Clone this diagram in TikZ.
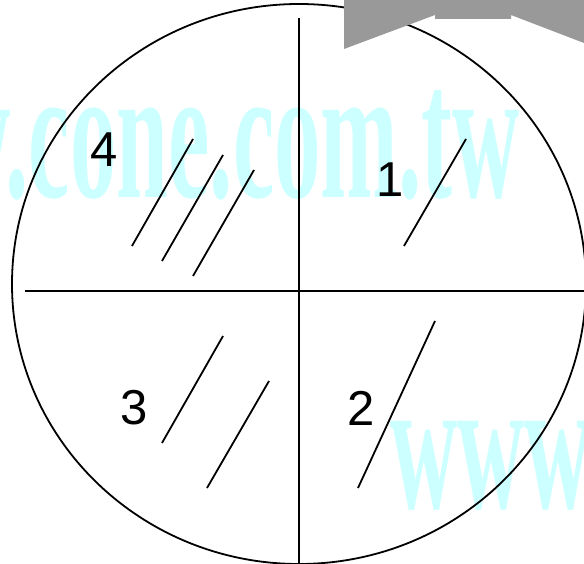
\documentclass[tikz,border=0pt]{standalone}
\usepackage{fontspec}
\setmainfont{Liberation Serif}
\newfontfamily\digitfont{Liberation Sans}
\definecolor{wmcyan}{RGB}{204,255,255}
\definecolor{bannergray}{RGB}{153,153,153}
\tikzset{
  wm/.style={text=wmcyan, inner sep=0pt, outer sep=0pt},
  hatch/.style={line width=1.8pt},
  axis/.style={line width=1.6pt},
  qlabel/.style={font=\digitfont\fontsize{49}{49}\selectfont, inner sep=0pt}
}
\begin{document}
\begin{tikzpicture}[x=1pt,y=-1pt]
\useasboundingbox (0,0) rectangle (584,564);
\clip (0,0) rectangle (584,564);
\fill[white] (0,0) rectangle (584,564);
% watermark
\node[wm, anchor=base east] (wmtop) at (520,198) {\scalebox{0.49}[1]{\fontsize{190}{190}\selectfont\bfseries www.cone.com.tw}};
\node[wm, anchor=base west] (wmbot) at (390,508) {\scalebox{0.49}[1]{\fontsize{190}{190}\selectfont\bfseries www.cone.com.tw}};
% circle and cross
\draw[line width=1.8pt] (299,284) ellipse [x radius=287, y radius=280];
\coordinate (vt) at (299,18);
\coordinate (vb) at (299,564);
\coordinate (hl) at (25,291);
\coordinate (hr) at (584,291);
\draw[axis] (vt) -- (vb);
\draw[axis] (hl) -- (hr);
% hatches
\coordinate (a1) at (132,246); \coordinate (b1) at (193,139);
\coordinate (a2) at (162,261); \coordinate (b2) at (223,155);
\coordinate (a3) at (193,276); \coordinate (b3) at (254,170);
\coordinate (a4) at (404,246); \coordinate (b4) at (466,139);
\coordinate (a5) at (358,488); \coordinate (b5) at (435,321);
\coordinate (a6) at (162,443); \coordinate (b6) at (223,336);
\coordinate (a7) at (207,488); \coordinate (b7) at (269,381);
\foreach \i in {1,...,7} \draw[hatch] (a\i) -- (b\i);
% labels
\node[qlabel] (l4) at (104,150) {4};
\node[qlabel] (l1) at (390,180) {1};
\node[qlabel] (l2) at (361,408) {2};
\node[qlabel] (l3) at (134,408) {3};
% banner
\fill[bannergray] (344,0) -- (344,49) -- (435,15) -- (435,19) -- (511,19) -- (511,15) -- (584,43) -- (584,0) -- cycle;
\end{tikzpicture}
\end{document}
